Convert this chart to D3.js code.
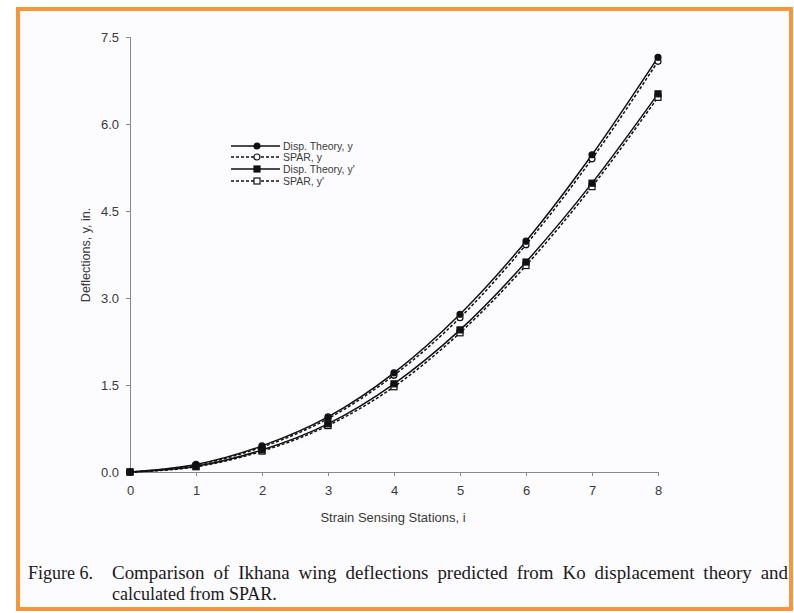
<!DOCTYPE html>
<html>
<head>
<meta charset="utf-8">
<script src="https://cdn.jsdelivr.net/npm/d3@7"></script>
<style>
  body { margin: 0; background: #fff; }
</style>
</head>
<body>
<div id="chart"></div>
<script>
const stations = [0, 1, 2, 3, 4, 5, 6, 7, 8];
const dispY = [0, 0.13, 0.45, 0.95, 1.71, 2.72, 3.98, 5.47, 7.15];
const sparY = [0, 0.12, 0.43, 0.92, 1.67, 2.66, 3.92, 5.40, 7.08];
const dispYp = [0, 0.10, 0.38, 0.83, 1.52, 2.45, 3.62, 4.98, 6.52];
const sparYp = [0, 0.09, 0.36, 0.80, 1.47, 2.40, 3.56, 4.92, 6.46];
const yTicks = [0, 1.5, 3.0, 4.5, 6.0, 7.5];
const legendLabels = ["Disp. Theory, y", "SPAR, y", "Disp. Theory, y'", "SPAR, y'"];

const width = 794;
const height = 613;

const svg = d3.select("#chart")
  .append("svg")
  .attr("width", width)
  .attr("height", height);

// frame
svg.append("rect")
  .attr("x", 18).attr("y", 9)
  .attr("width", 773).attr("height", 600)
  .attr("fill", "#fcfbfd")
  .attr("stroke", "#f7963a")
  .attr("stroke-width", 4);

const x = d3.scaleLinear().domain([0, 8]).range([130, 658]);
const y = d3.scaleLinear().domain([0, 7.5]).range([472, 37]);

const axisColor = "#888";
const textColor = "#3a3a3a";
const sans = "Liberation Sans, Arial, sans-serif";

// y axis
const yAxis = svg.append("g")
  .attr("transform", "translate(130,0)")
  .call(d3.axisLeft(y).tickValues(yTicks).tickFormat(d3.format(".1f")).tickSize(4).tickPadding(7));
// x axis
const xAxis = svg.append("g")
  .attr("transform", "translate(0,472)")
  .call(d3.axisBottom(x).tickValues(stations).tickFormat(d3.format("d")).tickSize(4).tickPadding(10));

[yAxis, xAxis].forEach(g => {
  g.select(".domain").attr("stroke", axisColor);
  g.selectAll(".tick line").attr("stroke", axisColor);
  g.selectAll(".tick text")
    .attr("fill", textColor)
    .style("font-family", sans)
    .style("font-size", "13px");
});

svg.append("text")
  .attr("transform", "translate(90,255) rotate(-90)")
  .attr("text-anchor", "middle")
  .attr("fill", textColor)
  .style("font-family", sans)
  .style("font-size", "12.5px")
  .text("Deflections, y, in.");

svg.append("text")
  .attr("x", 393).attr("y", 522)
  .attr("text-anchor", "middle")
  .attr("fill", textColor)
  .style("font-family", sans)
  .style("font-size", "13px")
  .text("Strain Sensing Stations, i");

const series = [
  { values: dispY, dash: null, marker: "circle", filled: true },
  { values: sparY, dash: "3,2", marker: "circle", filled: false },
  { values: dispYp, dash: null, marker: "square", filled: true },
  { values: sparYp, dash: "3,2", marker: "square", filled: false }
];

const line = d3.line()
  .x((d, i) => x(stations[i]))
  .y(d => y(d))
  .curve(d3.curveMonotoneX);

function drawMarker(g, type, filled, cx, cy) {
  if (type === "circle") {
    g.append("circle")
      .attr("cx", cx).attr("cy", cy).attr("r", 3)
      .attr("fill", filled ? "#111" : "#fff")
      .attr("stroke", "#111").attr("stroke-width", 1.2);
  } else {
    g.append("rect")
      .attr("x", cx - 3).attr("y", cy - 3).attr("width", 6).attr("height", 6)
      .attr("fill", filled ? "#111" : "#fff")
      .attr("stroke", "#111").attr("stroke-width", 1.2);
  }
}

series.forEach(s => {
  svg.append("path")
    .datum(s.values)
    .attr("fill", "none")
    .attr("stroke", "#111")
    .attr("stroke-width", 1.5)
    .attr("stroke-dasharray", s.dash)
    .attr("d", line);
});

// markers: open ones first, filled on top
[1, 3, 0, 2].forEach(k => {
  const s = series[k];
  const g = svg.append("g");
  s.values.forEach((v, i) => drawMarker(g, s.marker, s.filled, x(stations[i]), y(v)));
});

// legend
const legendY = [146, 157, 169, 181];
series.forEach((s, i) => {
  const g = svg.append("g").attr("transform", `translate(0,${legendY[i]})`);
  g.append("line")
    .attr("x1", 231).attr("x2", 280)
    .attr("stroke", "#111").attr("stroke-width", 1.5)
    .attr("stroke-dasharray", s.dash);
  drawMarker(g, s.marker, s.filled, 257, 0);
  g.append("text")
    .attr("x", 283).attr("y", 3.5)
    .attr("fill", textColor)
    .style("font-family", sans)
    .style("font-size", "10.5px")
    .text(legendLabels[i]);
});

// caption
const cap = svg.append("g")
  .style("font-family", "Liberation Serif, Times New Roman, serif")
  .style("font-size", "18px")
  .attr("fill", "#1a1a1a");
cap.append("text").attr("x", 28).attr("y", 579).text("Figure 6.");
cap.append("text").attr("x", 112).attr("y", 579)
  .attr("textLength", 676)
  .attr("lengthAdjust", "spacingAndGlyphs")
  .style("word-spacing", "4px")
  .text("Comparison of Ikhana wing deflections predicted from Ko displacement theory and");
cap.append("text").attr("x", 112).attr("y", 600).text("calculated from SPAR.");
</script>
</body>
</html>
